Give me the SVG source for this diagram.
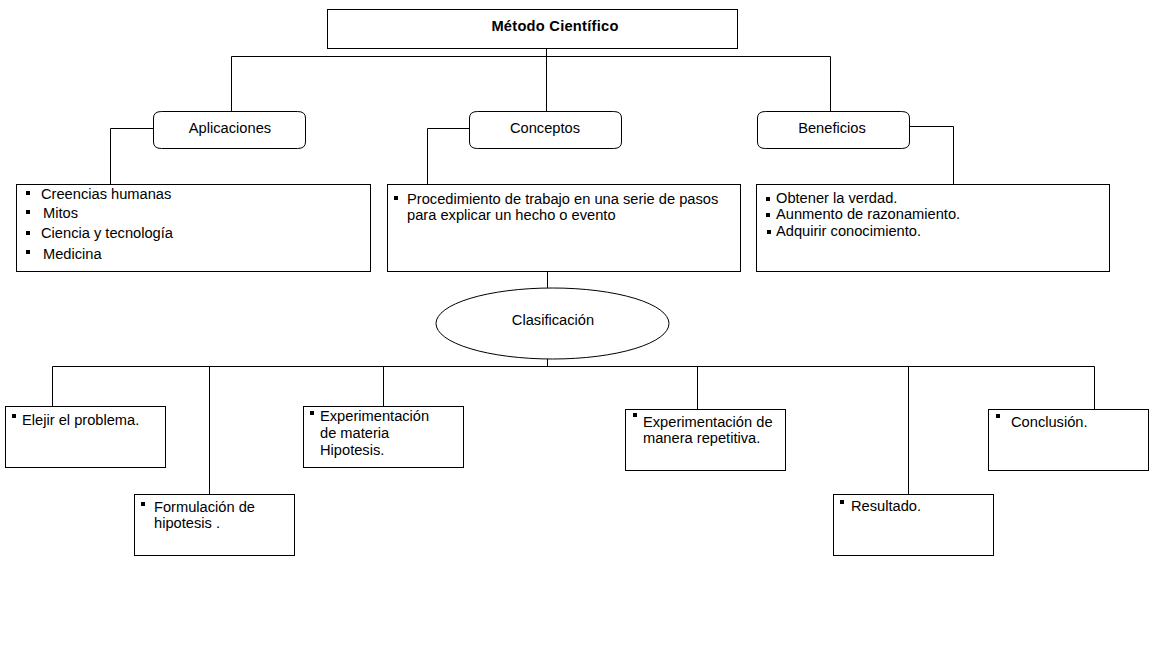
<svg xmlns="http://www.w3.org/2000/svg" width="1152" height="648" viewBox="0 0 1152 648">
<style>
text{font-family:"Liberation Sans",Arial,sans-serif;font-size:14.67px;fill:#000}
.b{fill:#fff;stroke:#000;stroke-width:1}
.c{fill:none;stroke:#000;stroke-width:1}
.t{font-weight:bold;letter-spacing:0.25px}
.m{text-anchor:middle}
</style>
<defs><rect id="blt" width="4" height="4" fill="#000"/></defs>
<rect width="1152" height="648" fill="#fff"/>
<g id="connectors" class="c">
<path d="M546.5 48V111M231.5 111V56.5H830.5V111"/>
<path d="M153 128.5H110.5V184"/>
<path d="M469 128.5H427.5V184"/>
<path d="M910 126.5H953.5V184"/>
<path d="M547.5 272V288"/>
<path d="M547.5 359V366.5M52.5 406V366.5H1094.5V409M209.5 366.5V494M383.5 366.5V406M697.5 366.5V409M908.5 366.5V494"/>
</g>
<g id="metodo"><rect class="b" x="327.5" y="9.5" width="410" height="39"/><text class="t m" x="555" y="31">Método Científico</text></g>
<g id="aplicaciones"><path class="b" d="M161.5 111.5H297.5Q305.5 111.5 305.5 118V142Q305.5 148.5 297.5 148.5H161.5Q153.5 148.5 153.5 142V118Q153.5 111.5 161.5 111.5Z"/><text class="m" x="230" y="133">Aplicaciones</text></g>
<g id="conceptos"><path class="b" d="M477.5 111.5H613.5Q621.5 111.5 621.5 118V142Q621.5 148.5 613.5 148.5H477.5Q469.5 148.5 469.5 142V118Q469.5 111.5 477.5 111.5Z"/><text class="m" x="545" y="133">Conceptos</text></g>
<g id="beneficios"><path class="b" d="M765.5 111.5H901.5Q909.5 111.5 909.5 118V142Q909.5 148.5 901.5 148.5H765.5Q757.5 148.5 757.5 142V118Q757.5 111.5 765.5 111.5Z"/><text class="m" x="832" y="133">Beneficios</text></g>
<g id="aplicaciones-lista"><rect class="b" x="16.5" y="184.5" width="354" height="87"/>
<use href="#blt" x="26" y="191"/><text x="41" y="199">Creencias humanas</text>
<use href="#blt" x="26" y="210"/><text x="43" y="218">Mitos</text>
<use href="#blt" x="26" y="231"/><text x="41" y="238">Ciencia y tecnología</text>
<use href="#blt" x="26" y="250"/><text x="43" y="259">Medicina</text></g>
<g id="conceptos-texto"><rect class="b" x="387.5" y="184.5" width="353" height="87"/>
<use href="#blt" x="394" y="196"/><text x="407" y="204">Procedimiento de trabajo en una serie de pasos</text><text x="407" y="220">para explicar un hecho o evento</text></g>
<g id="beneficios-lista"><rect class="b" x="756.5" y="184.5" width="353" height="87"/>
<use href="#blt" x="766" y="197"/><text x="776" y="203">Obtener la verdad.</text>
<use href="#blt" x="766" y="213"/><text x="776" y="219">Aunmento de razonamiento.</text>
<use href="#blt" x="767" y="230"/><text x="776" y="236">Adquirir conocimiento.</text></g>
<g id="clasificacion"><ellipse class="b" cx="552.5" cy="323.5" rx="116.5" ry="35.5"/><text class="m" x="553" y="325">Clasificación</text></g>
<g id="elejir"><rect class="b" x="5.5" y="406.5" width="160" height="61"/><use href="#blt" x="12" y="414"/><text x="22" y="425">Elejir el problema.</text></g>
<g id="formulacion"><rect class="b" x="134.5" y="494.5" width="160" height="61"/><use href="#blt" x="141" y="502"/><text x="154" y="512">Formulación de</text><text x="154" y="528">hipotesis .</text></g>
<g id="experimentacion-materia"><rect class="b" x="303.5" y="406.5" width="160" height="61"/><use href="#blt" x="310" y="411"/><text x="320" y="421">Experimentación</text><text x="320" y="438">de materia</text><text x="320" y="455">Hipotesis.</text></g>
<g id="experimentacion-manera"><rect class="b" x="625.5" y="409.5" width="160" height="61"/><use href="#blt" x="633" y="413"/><text x="643" y="427">Experimentación de</text><text x="643" y="443">manera repetitiva.</text></g>
<g id="resultado"><rect class="b" x="833.5" y="494.5" width="160" height="61"/><use href="#blt" x="840" y="500"/><text x="851" y="511">Resultado.</text></g>
<g id="conclusion"><rect class="b" x="988.5" y="409.5" width="160" height="61"/><use href="#blt" x="996" y="414"/><text x="1011" y="427">Conclusión.</text></g>
</svg>
